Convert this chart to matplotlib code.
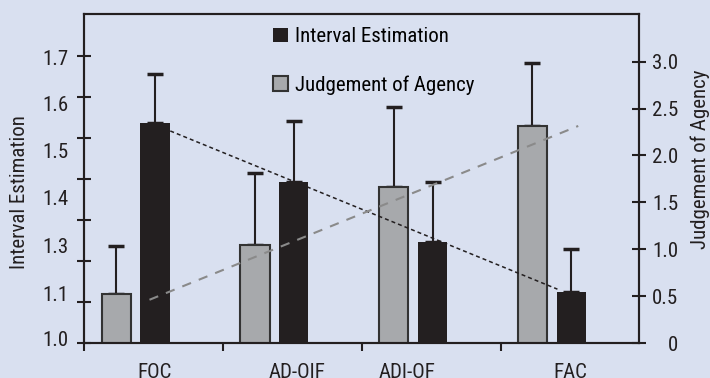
import numpy as np
import matplotlib
matplotlib.use("Agg")
import matplotlib.pyplot as plt

#%% Dados
categorias = ["FOC", "AD-OIF", "ADI-OF", "FAC"]
interval_est = [1.535, 1.393, 1.247, 1.124]
interval_err = [0.120, 0.147, 0.145, 0.105]
agency = [0.522, 1.047, 1.661, 2.314]
agency_err = [0.514, 0.763, 0.859, 0.676]

left_ticks = [1.0, 1.1, 1.2, 1.3, 1.4, 1.5, 1.6, 1.7]
left_labels = ["1.0", "1.1", "1.3", "1.4", "1.5", "1.6", "1.7"]
right_ticks = [0, 0.5, 1.0, 1.5, 2.0, 2.5, 3.0]

#%% Layout
left_label_pos = [1.011, 1.122, 1.239, 1.355, 1.470, 1.583, 1.694]
cat_label_pos = [0.508, 1.531, 2.326, 3.501]
off_gray, off_black, largura = 0.23, 0.51, 0.21

bg = "#d9e0f0"
preto = "#231f20"
cinza = "#a7a9ac"

plt.rcParams["font.family"] = ["Roboto Condensed", "DejaVu Sans"]
plt.rcParams["font.size"] = 15

fig = plt.figure(figsize=(7.1, 3.78), dpi=100, facecolor=bg)
ax = fig.add_axes([0.1187, 0.0918, 0.7817, 0.8712])
ax.set_facecolor(bg)
ax2 = ax.twinx()

x = np.arange(len(categorias))
xb = x + off_black
xg = x + off_gray

# barras
b1 = ax.bar(xb, interval_est, width=largura, color=preto, zorder=2)
ax.errorbar(xb, interval_est, yerr=[np.zeros(4), interval_err], fmt="none",
            ecolor=preto, elinewidth=1.5, capsize=5.5, capthick=2.5, zorder=1)
b2 = ax2.bar(xg, agency, width=largura, color=cinza, edgecolor="#333333",
             linewidth=1.5, zorder=2)
ax2.errorbar(xg, agency, yerr=[np.zeros(4), agency_err], fmt="none",
             ecolor=preto, elinewidth=1.5, capsize=5.5, capthick=2.5, zorder=1)

# linhas de tendência
p1 = np.polyfit(xb, interval_est, 1)
xl1 = np.array([0.62, 3.41])
ax2.plot(xl1, np.polyval(p1, xl1), color=preto, lw=1.1, dashes=(2.6, 2.0),
         transform=ax.transData, zorder=5)
p2 = np.polyfit(xb, agency, 1)
xl2 = np.array([0.47, 3.56])
ax2.plot(xl2, np.polyval(p2, xl2), color="#8a8a8a", lw=1.5, dashes=(4.5, 4.0),
         zorder=5)

# eixos
ax.set_xlim(0, 4)
ax.set_ylim(1.0, 1.801)
ax2.set_ylim(0, 3.507)

ax.set_xticks([0, 1, 2, 3])
ax.set_xticklabels([])
ax.set_xticks(cat_label_pos, minor=True)
ax.set_xticklabels(categorias, minor=True)
ax.tick_params(axis="x", which="major", direction="out", length=6, width=1.5, color=preto)
ax.tick_params(axis="x", which="minor", length=0, pad=14, labelcolor=preto)

ax.set_yticks(left_ticks)
ax.set_yticklabels([])
ax.set_yticks(left_label_pos, minor=True)
ax.set_yticklabels(left_labels, minor=True)
ax.tick_params(axis="y", which="major", direction="inout", length=9.4, width=1.5, color=preto)
ax.tick_params(axis="y", which="minor", length=0, pad=11.5, labelcolor=preto)

ax2.set_yticks(right_ticks)
ax2.set_yticklabels(["0" if t == 0 else f"{t:.1f}" for t in right_ticks])
ax2.tick_params(axis="y", direction="inout", length=9.4, width=1.5, color=preto,
                pad=23.2, labelcolor=preto)
for lab in ax2.get_yticklabels():
    lab.set_horizontalalignment("right")

for a in (ax, ax2):
    for s in a.spines.values():
        s.set_linewidth(1.5)
        s.set_color(preto)

ax.set_ylabel("Interval Estimation", va="center", color=preto)
ax.yaxis.set_label_coords(-0.116, 0.459)
ax2.set_ylabel("Judgement of Agency", va="center", color=preto)
ax2.yaxis.set_label_coords(1.109, 0.56)

leg = ax2.legend([b1, b2], ["Interval Estimation", "Judgement of Agency"],
                 loc="upper left", bbox_to_anchor=(0.325, 0.985), frameon=False,
                 handlelength=0.72, handleheight=0.72, handletextpad=0.35,
                 labelspacing=1.38, borderaxespad=0)
leg.set_zorder(10)

plt.savefig("out.png", dpi=100, facecolor=bg)
